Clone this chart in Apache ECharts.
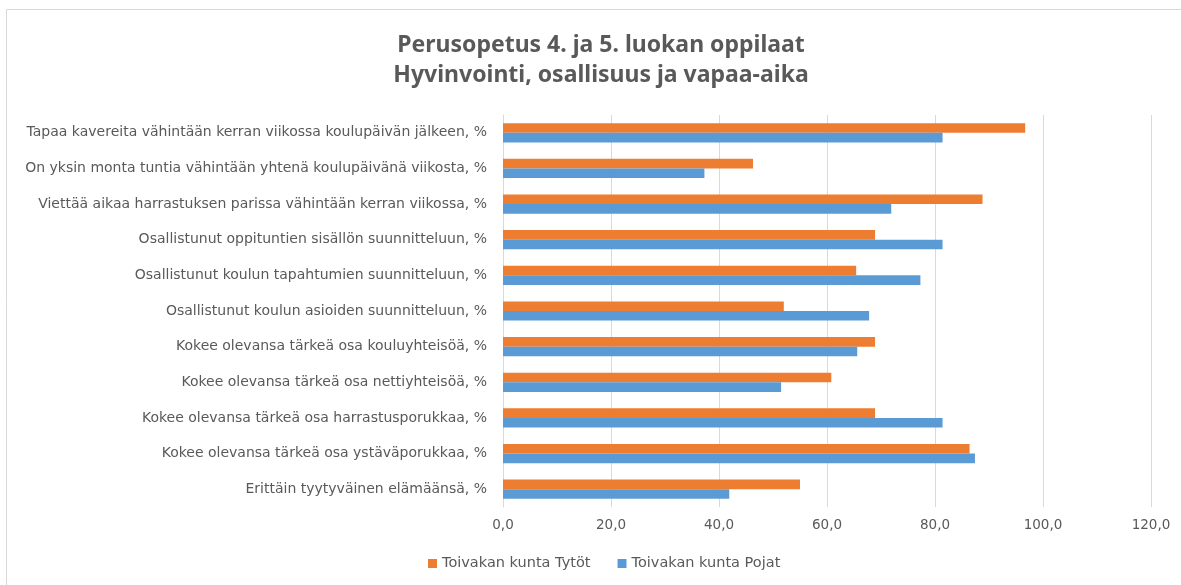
<!DOCTYPE html>
<html>
<head>
	<meta charset="utf-8" />
	<title>Perusopetus 4. ja 5. luokan oppilaat</title>
	<script src="https://cdn.jsdelivr.net/npm/echarts@6/dist/echarts.min.js"></script>
	<style>
		html, body { margin: 0; padding: 0; background: #fff; }
		#chart { width: 1181px; height: 585px; }
	</style>
</head>
<body>
<div id="chart"></div>
<script type="text/javascript">
	// kysymykset ylhäältä alas
	var kysymykset = [
		'Tapaa kavereita vähintään kerran viikossa koulupäivän jälkeen, %',
		'On yksin monta tuntia vähintään yhtenä koulupäivänä viikosta, %',
		'Viettää aikaa harrastuksen parissa vähintään kerran viikossa, %',
		'Osallistunut oppituntien sisällön suunnitteluun, %',
		'Osallistunut koulun tapahtumien suunnitteluun, %',
		'Osallistunut koulun asioiden suunnitteluun, %',
		'Kokee olevansa tärkeä osa kouluyhteisöä, %',
		'Kokee olevansa tärkeä osa nettiyhteisöä, %',
		'Kokee olevansa tärkeä osa harrastusporukkaa, %',
		'Kokee olevansa tärkeä osa ystäväporukkaa, %',
		'Erittäin tyytyväinen elämäänsä, %'
	];
	var tytot = [96.7, 46.3, 88.8, 68.9, 65.4, 52.0, 68.9, 60.8, 68.9, 86.4, 55.0];
	var pojat = [81.4, 37.3, 71.9, 81.4, 77.3, 67.8, 65.6, 51.5, 81.4, 87.4, 41.9];
	var sarjat = ['Toivakan kunta Tytöt', 'Toivakan kunta Pojat'];

	var harmaa = '#595959';
	var myChart = echarts.init(document.getElementById('chart'));
	var option = {
		animation: false,
		title: {
			text: 'Perusopetus 4. ja 5. luokan oppilaat\nHyvinvointi, osallisuus ja vapaa-aika',
			left: 596,
			textAlign: 'center',
			top: 25,
			textStyle: {
				fontFamily: '"Noto Sans"',
				fontSize: 23,
				fontWeight: 'bold',
				color: harmaa,
				lineHeight: 30
			}
		},
		graphic: [{
			type: 'rect',
			shape: { x: 6.5, y: 9.5, width: 1200, height: 600 },
			style: { fill: 'none', stroke: '#d9d9d9', lineWidth: 1 },
			silent: true
		}],
		legend: {
			data: sarjat,
			bottom: 9,
			left: 423,
			itemWidth: 9,
			itemHeight: 9,
			itemGap: 27,
			icon: 'rect',
			textStyle: { color: harmaa, fontSize: 14.5, fontFamily: 'DejaVu Sans' }
		},
		grid: {
			left: 503,
			right: 30,
			top: 115,
			bottom: 78
		},
		xAxis: {
			type: 'value',
			min: 0,
			max: 120,
			interval: 20,
			axisLine: { show: false },
			axisTick: { show: false },
			splitLine: { lineStyle: { color: '#d9d9d9', width: 1 } },
			axisLabel: {
				color: harmaa,
				fontSize: 13.5,
				fontFamily: 'DejaVu Sans',
				margin: 11,
				formatter: function (v) { return v.toFixed(1).replace('.', ','); }
			}
		},
		yAxis: {
			type: 'category',
			inverse: true,
			data: kysymykset,
			axisLine: { lineStyle: { color: '#d9d9d9' } },
			axisTick: { show: false },
			axisLabel: {
				color: harmaa,
				fontSize: 14,
				fontFamily: 'DejaVu Sans',
				margin: 16
			}
		},
		series: [
			{
				name: sarjat[0],
				type: 'bar',
				data: tytot,
				barGap: '0%',
				barCategoryGap: '46%',
				itemStyle: { color: '#ed7d31' }
			},
			{
				name: sarjat[1],
				type: 'bar',
				data: pojat,
				itemStyle: { color: '#5b9bd5' }
			}
		]
	};
	myChart.setOption(option);
</script>
</body>
</html>
